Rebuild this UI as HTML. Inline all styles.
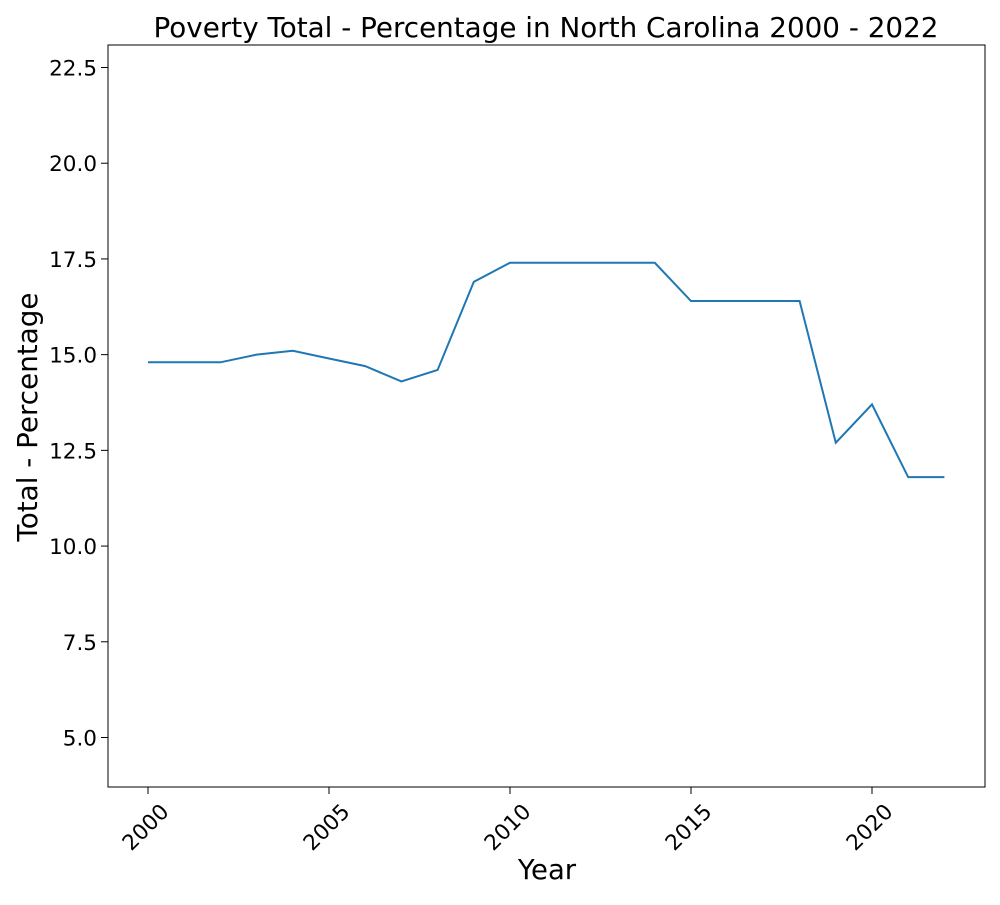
<!DOCTYPE html>
<html><head><meta charset="utf-8"><style>
body{margin:0;background:#fff;}
svg text{font-family:"DejaVu Sans","Liberation Sans",sans-serif;fill:#000;}
</style></head><body>
<svg id="chart" width="1000" height="900" xmlns="http://www.w3.org/2000/svg">
<text x="546" y="37" font-size="27.8" text-anchor="middle">Poverty Total - Percentage in North Carolina 2000 - 2022</text>
<rect x="108" y="45" width="877" height="742" fill="none" stroke="#000" stroke-width="1"/>
<g id="xticks"></g>
<g id="yticks"></g>
<text x="547" y="879" font-size="27.5" text-anchor="middle">Year</text>
<text transform="translate(37,417) rotate(-90)" font-size="27.8" text-anchor="middle">Total - Percentage</text>
<path id="line" fill="none" stroke="#1f77b4" stroke-width="2"/>
</svg>
<script>
const years=[2000,2001,2002,2003,2004,2005,2006,2007,2008,2009,2010,2011,2012,2013,2014,2015,2016,2017,2018,2019,2020,2021,2022];
const values=[14.8,14.8,14.8,15.0,15.1,14.9,14.7,14.3,14.6,16.9,17.4,17.4,17.4,17.4,17.4,16.4,16.4,16.4,16.4,12.7,13.7,11.8,11.8];
const xTickValues=[2000,2005,2010,2015,2020];
const yTickValues=[5.0,7.5,10.0,12.5,15.0,17.5,20.0,22.5];
const NS="http://www.w3.org/2000/svg";
function sx(v){return 148+(v-2000)*36.2;}
function sy(v){return 737.5-(v-5)*38.286;}
const xg=document.getElementById('xticks'),yg=document.getElementById('yticks');
xTickValues.forEach(v=>{
  const l=document.createElementNS(NS,'line');
  l.setAttribute('x1',sx(v));l.setAttribute('x2',sx(v));l.setAttribute('y1',787);l.setAttribute('y2',794);l.setAttribute('stroke','#000');
  
  
  xg.appendChild(l);
  const t=document.createElementNS(NS,'text');
  t.setAttribute('font-size','21.5');t.setAttribute('text-anchor','end');
  t.setAttribute('transform',`translate(${sx(v)+22},${813}) rotate(-45)`);
  t.textContent=v;
  
  
  xg.appendChild(t);
});
yTickValues.forEach(v=>{
  const l=document.createElementNS(NS,'line');
  l.setAttribute('x1',101);l.setAttribute('x2',108);l.setAttribute('y1',sy(v));l.setAttribute('y2',sy(v));l.setAttribute('stroke','#000');
  
  
  yg.appendChild(l);
  const t=document.createElementNS(NS,'text');
  t.setAttribute('font-size','21.5');t.setAttribute('text-anchor','end');
  t.setAttribute('x',97);t.setAttribute('y',sy(v)+8);
  t.textContent=v.toFixed(1);
  
  
  yg.appendChild(t);
});
document.getElementById('line').setAttribute('d',years.map((y,i)=>(i?'L':'M')+sx(y)+','+sy(values[i])).join(''));
</script>
</body></html>
